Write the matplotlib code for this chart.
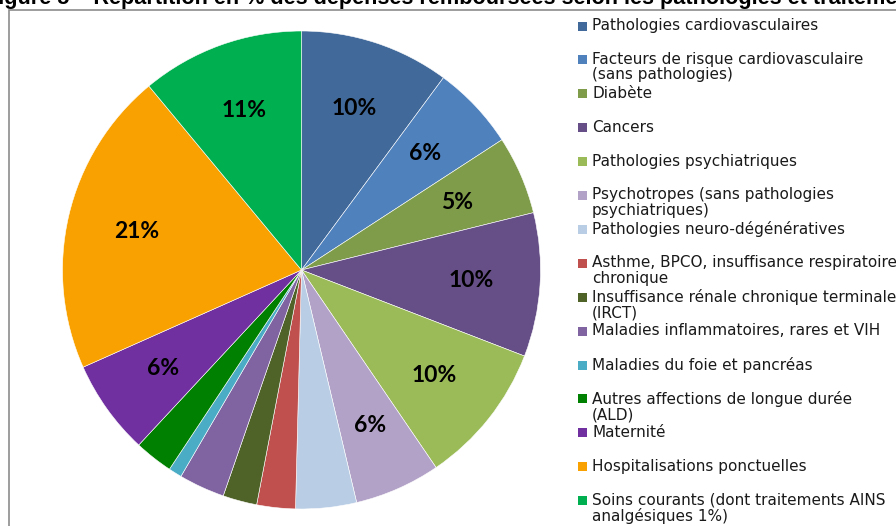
import matplotlib
matplotlib.use("Agg")
import matplotlib.pyplot as plt
from matplotlib.patches import Rectangle

categories = [
    "Pathologies cardiovasculaires",
    "Facteurs de risque cardiovasculaire\n(sans pathologies)",
    "Diabète",
    "Cancers",
    "Pathologies psychiatriques",
    "Psychotropes (sans pathologies\npsychiatriques)",
    "Pathologies neuro-dégénératives",
    "Asthme, BPCO, insuffisance respiratoire\nchronique",
    "Insuffisance rénale chronique terminale\n(IRCT)",
    "Maladies inflammatoires, rares et VIH",
    "Maladies du foie et pancréas",
    "Autres affections de longue durée\n(ALD)",
    "Maternité",
    "Hospitalisations ponctuelles",
    "Soins courants (dont traitements AINS\nanalgésiques 1%)",
]
values = [10.1, 5.7, 5.3, 9.7, 9.6, 5.8, 4.1, 2.6, 2.3, 3.1, 0.9, 2.6, 6.4, 20.6, 11.0]
colors = ["#41699A", "#4F81BD", "#7E9C4A", "#664F87", "#9BBB59", "#B3A2C7",
          "#B9CDE5", "#C0504D", "#4F6228", "#8064A2", "#4BACC6", "#008000",
          "#7030A0", "#F8A100", "#00B050"]
title = "Figure 5 – Répartition en % des dépenses remboursées selon les pathologies et traitements"

W, H = 896, 526
fig = plt.figure(figsize=(W / 100, H / 100), dpi=100)

# frame
fig.add_artist(Rectangle((9 / W, -0.1), 1.2, (H - 10) / H + 0.1, transform=fig.transFigure,
                         fill=False, edgecolor="#8C8C8C", linewidth=1.2))

# title (cut off at top, as in the reference)
fig.text(-14.5 / W, 1 - 4 / H, title, fontsize=15.6, fontweight="bold",
         family="Liberation Sans", va="baseline", ha="left")

# pie
cx, cy, r = 301.5, 270, 239
ax = fig.add_axes([(cx - r) / W, (H - cy - r) / H, 2 * r / W, 2 * r / H])
def fmt(p):
    return f"{p:.0f}%" if p >= 5 else ""
wedges, texts, autotexts = ax.pie(values, colors=colors, startangle=90, counterclock=False,
                                  autopct=fmt, pctdistance=0.71,
                                  wedgeprops=dict(edgecolor="white", linewidth=0.4),
                                  textprops=dict(fontsize=16.5, fontweight="bold",
                                                 family="Lato", color="black"))
ax.set_xlim(-1, 1)
ax.set_ylim(-1, 1)
ax.set_aspect("equal")
ax.axis("off")

# legend (manual, to reproduce compact overlapping layout)
y0, dy = 26, 33.9
sq = 9
for i, (lab, col) in enumerate(zip(categories, colors)):
    yc = y0 + i * dy
    fig.add_artist(Rectangle((578 / W, 1 - (yc + sq / 2) / H), sq / W, sq / H,
                             transform=fig.transFigure, facecolor=col, edgecolor="none"))
    fig.text(592 / W, 1 - (yc - 8) / H, lab, fontsize=11, family="DejaVu Sans",
             color="#1A1A1A", va="top", ha="left", linespacing=1.05)

fig.savefig("out.png", dpi=100)
